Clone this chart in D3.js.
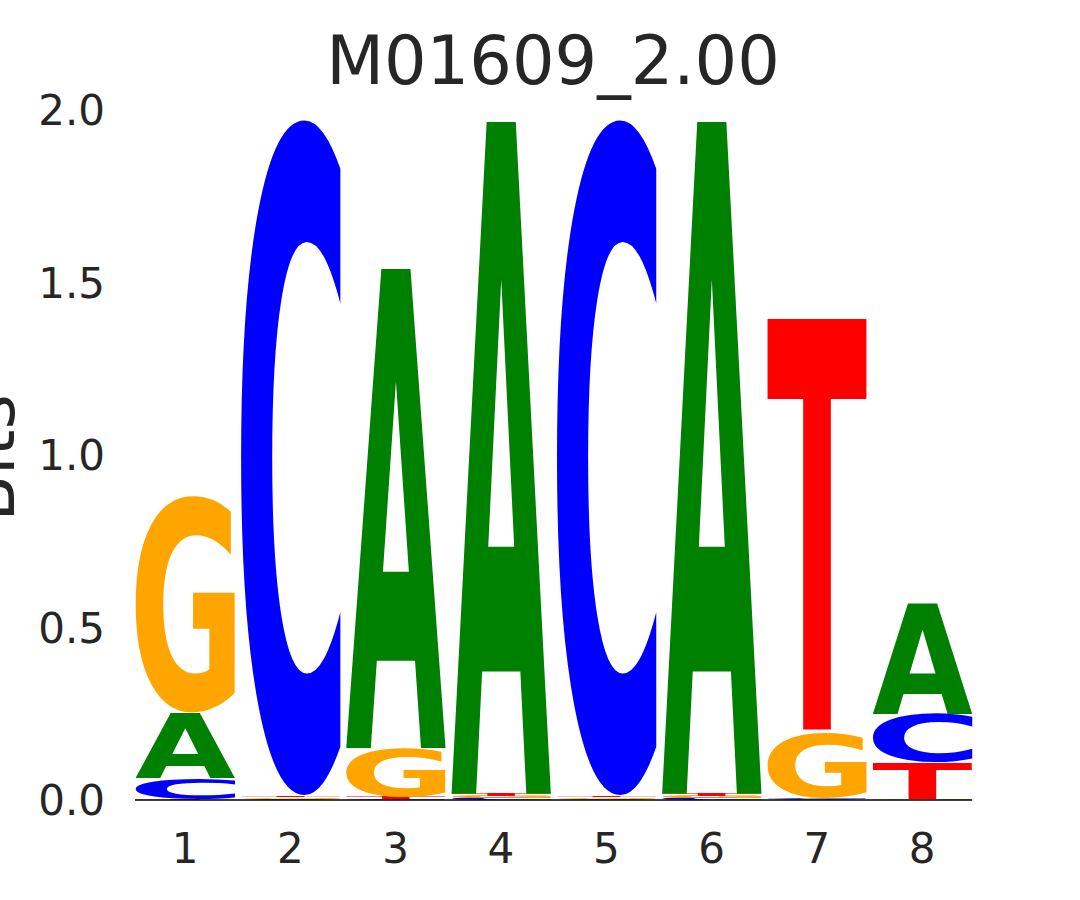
<!DOCTYPE html>
<html>
<head>
<meta charset="utf-8">
<script src="https://cdn.jsdelivr.net/npm/d3@7"></script>
<style>
  body { margin: 0; background: #fff; }
  svg { display: block; }
</style>
</head>
<body>
<script>
// motif M01609_2.00, information content (bits) per letter and position
const positions = [1, 2, 3, 4, 5, 6, 7, 8];
const bitsA = [0.19, 0.004, 1.39, 1.95, 0.004, 1.95, 0.003, 0.32];
const bitsC = [0.06, 1.965, 0.003, 0.006, 1.965, 0.006, 0.003, 0.14];
const bitsG = [0.63, 0.004, 0.142, 0.006, 0.004, 0.006, 0.19, 0.003];
const bitsT = [0.003, 0.004, 0.006, 0.006, 0.004, 0.006, 1.20, 0.107];
const yTicks = [0, 0.5, 1.0, 1.5, 2.0];

const colors = { A: '#008000', C: '#0000ff', G: '#ffa500', T: '#ff0000' };
const letterFont = 'bold 200px "DejaVu Sans"';

const width = 1080, height = 900;

const svg = d3.select('body').append('svg')
    .attr('width', width)
    .attr('height', height);

const x = d3.scaleLinear().domain([0.5, 8.5]).range([132.4, 974.8]);
const y = d3.scaleLinear().domain([0, 2]).range([800, 110]);

// ink extents of each glyph, so letters can be stretched to fill their box
const ctx = document.createElement('canvas').getContext('2d');
ctx.font = letterFont;
const ink = {};
['A', 'C', 'G', 'T'].forEach(l => {
    const m = ctx.measureText(l);
    ink[l] = {
        left: m.actualBoundingBoxLeft,
        ascent: m.actualBoundingBoxAscent,
        w: m.actualBoundingBoxLeft + m.actualBoundingBoxRight,
        h: m.actualBoundingBoxAscent + m.actualBoundingBoxDescent
    };
});

// stack letters, smallest at the bottom
const stacks = positions.map((p, i) => {
    const col = [
        { letter: 'A', bits: bitsA[i] },
        { letter: 'C', bits: bitsC[i] },
        { letter: 'G', bits: bitsG[i] },
        { letter: 'T', bits: bitsT[i] }
    ].sort((a, b) => a.bits - b.bits);
    let base = 0;
    col.forEach(d => {
        d.pos = p;
        d.y0 = base;
        d.y1 = base + d.bits;
        base = d.y1;
    });
    return col;
});

const letterW = 0.95;

svg.append('g')
    .selectAll('text')
    .data(stacks.flat())
    .join('text')
    .text(d => d.letter)
    .style('font', letterFont)
    .attr('fill', d => colors[d.letter])
    .attr('transform', d => {
        const g = ink[d.letter];
        const bx = x(d.pos - letterW / 2);
        const bw = x(d.pos + letterW / 2) - bx;
        const by = y(d.y1);
        const bh = y(d.y0) - by;
        return `translate(${bx},${by}) scale(${bw / g.w},${bh / g.h}) translate(${g.left},${g.ascent})`;
    });

// baseline
svg.append('line')
    .attr('x1', x(0.5 + (1 - letterW) / 2))
    .attr('x2', x(8.5 - (1 - letterW) / 2))
    .attr('y1', y(0))
    .attr('y2', y(0))
    .attr('stroke', '#000')
    .attr('stroke-width', 1.5);

// y tick labels
svg.append('g')
    .selectAll('text')
    .data(yTicks)
    .join('text')
    .attr('x', 105)
    .attr('y', d => y(d) + 15)
    .attr('text-anchor', 'end')
    .style('font', '42px "DejaVu Sans"')
    .attr('fill', '#262626')
    .text(d => d.toFixed(1));

// x tick labels
svg.append('g')
    .selectAll('text')
    .data(positions)
    .join('text')
    .attr('x', d => x(d))
    .attr('y', 863)
    .attr('text-anchor', 'middle')
    .style('font', '42px "DejaVu Sans"')
    .attr('fill', '#262626')
    .text(d => d);

// title
svg.append('text')
    .attr('x', 553)
    .attr('y', 84)
    .attr('text-anchor', 'middle')
    .style('font', '67px "DejaVu Sans"')
    .attr('fill', '#262626')
    .text('M01609_2.00');

// y axis label, mostly cut off at the left edge
svg.append('text')
    .attr('transform', 'translate(14,458) rotate(-90)')
    .attr('text-anchor', 'middle')
    .style('font', '68px "DejaVu Sans"')
    .attr('fill', '#262626')
    .text('Bits');
</script>
</body>
</html>
